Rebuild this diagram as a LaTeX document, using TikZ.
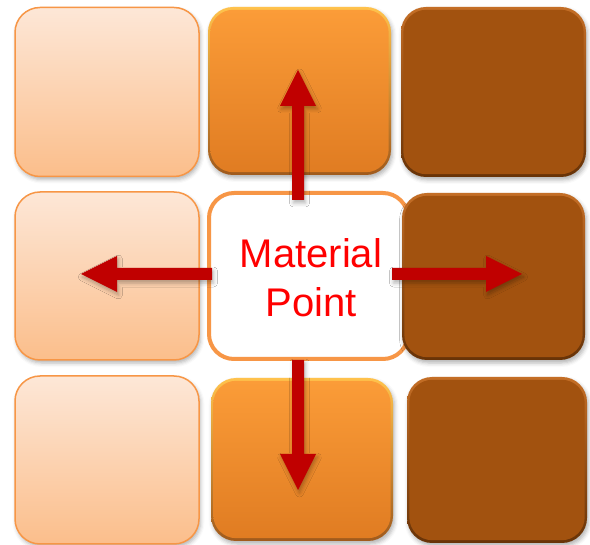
\documentclass[tikz,border=0pt]{standalone}
\usepackage{fontspec}
\setmainfont{Liberation Sans}
\usetikzlibrary{calc,shadows.blur}
\definecolor{lightTop}{HTML}{FDE7D7}
\definecolor{lightBot}{HTML}{FBBE8B}
\definecolor{orangeLine}{HTML}{F79646}
\definecolor{orTop}{HTML}{FB9C38}
\definecolor{orBot}{HTML}{E07C22}
\definecolor{orHi}{HTML}{FFC24C}
\definecolor{orLo}{HTML}{A05A1C}
\definecolor{dkFill}{HTML}{A2520F}
\definecolor{dkHi}{HTML}{C46E26}
\definecolor{dkLo}{HTML}{683307}
\definecolor{arrowred}{HTML}{C00000}
\definecolor{textred}{HTML}{FF0000}
\tikzset{
  shad/.style={blur shadow={shadow xshift=1.5pt, shadow yshift=-3pt, shadow blur radius=4pt, shadow opacity=30}},
  lightbox/.style={rectangle, rounded corners=25pt, draw=orangeLine, line width=1.5pt,
     top color=lightTop, bottom color=lightBot, inner sep=0pt, shad},
  orangebox/.style={rectangle, rounded corners=25pt, top color=orHi, bottom color=orLo,
     inner sep=0pt, shad},
  orangein/.style={rounded corners=23pt, top color=orTop, bottom color=orBot},
  darkbox/.style={rectangle, rounded corners=25pt, top color=dkHi, bottom color=dkLo,
     inner sep=0pt, shad},
  darkin/.style={rounded corners=23pt, fill=dkFill},
  centerbox/.style={rectangle, rounded corners=25pt, draw=orangeLine, line width=4pt,
     fill=white, inner sep=0pt},
  blockarrow/.style={fill=arrowred, shad}
}
\newcommand{\bevel}[2]{%
  \path[#2] ([shift={(2.5,3)}]#1.north west) rectangle ([shift={(-2.5,-3)}]#1.south east);}
\newcommand{\blockarr}[3]{%
  \coordinate (#3) at ($(#2)!36pt!(#1)$);
  \path[blockarrow] ($(#1)!6pt!90:(#2)$) -- ($(#3)!6pt!90:(#2)$) -- ($(#3)!18pt!90:(#2)$)
     -- (#2) -- ($(#3)!18pt!-90:(#2)$) -- ($(#3)!6pt!-90:(#2)$) -- ($(#1)!6pt!-90:(#2)$) -- cycle;}
\begin{document}
\begin{tikzpicture}[x=1pt,y=-1pt]
\useasboundingbox (0,0) rectangle (590,545);
% light boxes
\node[lightbox, minimum width=184pt, minimum height=169pt] (b11) at (107,92) {};
\node[lightbox, minimum width=184pt, minimum height=168pt] (b21) at (107,276) {};
\node[lightbox, minimum width=184pt, minimum height=168pt] (b31) at (107,460) {};
% center box
\node[centerbox, minimum width=199pt, minimum height=166pt] (c) at (308.5,276) {};
% orange boxes
\node[orangebox, minimum width=183pt, minimum height=168pt] (b12) at (299.5,91) {};
\bevel{b12}{orangein}
\node[orangebox, minimum width=182pt, minimum height=163pt] (b32) at (302,459.5) {};
\bevel{b32}{orangein}
% dark boxes
\node[darkbox, minimum width=185pt, minimum height=170pt] (b13) at (493.5,92) {};
\bevel{b13}{darkin}
\node[darkbox, minimum width=183pt, minimum height=167pt] (b23) at (493.5,276.5) {};
\bevel{b23}{darkin}
\node[darkbox, minimum width=180pt, minimum height=166pt] (b33) at (497,460) {};
\bevel{b33}{darkin}
% arrows
\coordinate (upA) at (298,200); \coordinate (upB) at (298,70);
\coordinate (lfA) at (212,274); \coordinate (lfB) at (81,274);
\coordinate (rtA) at (392,274); \coordinate (rtB) at (522,274);
\coordinate (dnA) at (298,360); \coordinate (dnB) at (298,490);
\blockarr{upA}{upB}{upH}
\blockarr{lfA}{lfB}{lfH}
\blockarr{rtA}{rtB}{rtH}
\blockarr{dnA}{dnB}{dnH}
% label
\node[text=textred, align=center, font=\fontsize{40}{49}\selectfont, inner sep=0pt] (label) at (311,278) {Material\\Point};
\end{tikzpicture}
\end{document}
